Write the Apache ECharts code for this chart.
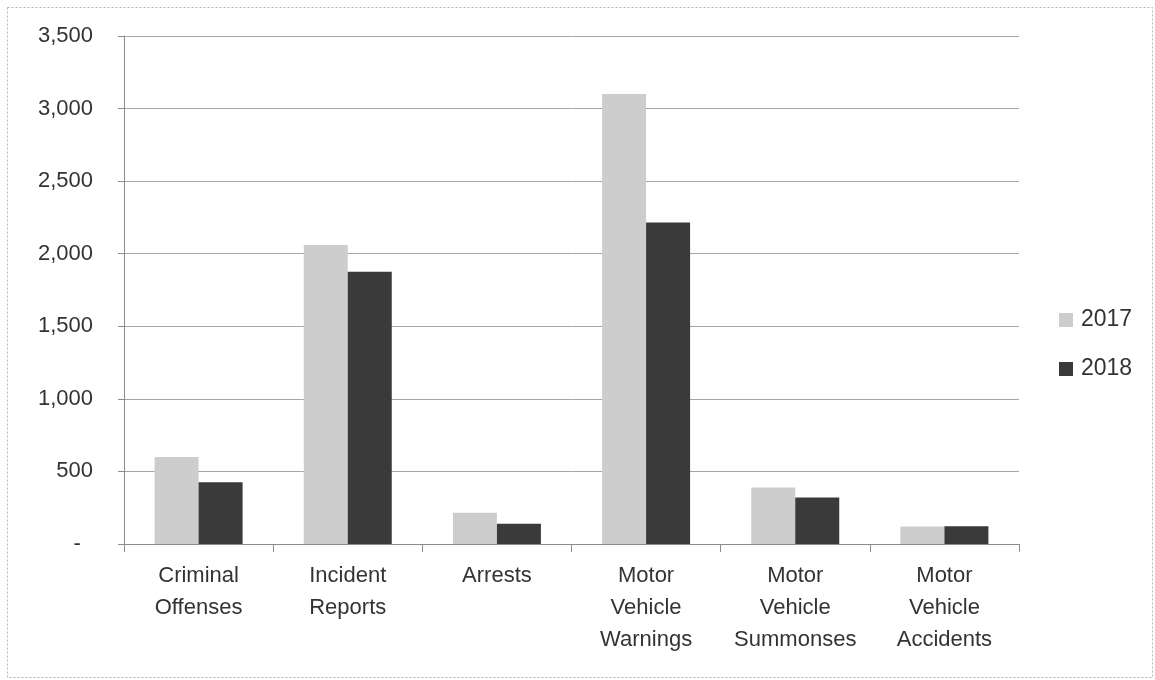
<!DOCTYPE html>
<html>
<head>
<meta charset="utf-8">
<title>Police Activity 2017 vs 2018</title>
<script src="https://cdn.jsdelivr.net/npm/echarts@6/dist/echarts.min.js"></script>
<style>
  html, body { margin: 0; padding: 0; background: #ffffff; }
  #chart { width: 1155px; height: 680px; }
</style>
</head>
<body>
<div id="chart"></div>
<script>
// Activity categories (line breaks match the wrapped axis labels)
const categories = [
  'Criminal\nOffenses',
  'Incident\nReports',
  'Arrests',
  'Motor\nVehicle\nWarnings',
  'Motor\nVehicle\nSummonses',
  'Motor\nVehicle\nAccidents'
];

// Yearly counts per category
const values2017 = [600, 2060, 215, 3100, 390, 120];
const values2018 = [425, 1875, 140, 2215, 320, 122];

const seriesNames = ['2017', '2018'];

// Value axis range
const yMin = 0;
const yMax = 3500;
const yStep = 500;

const FONT = 'Liberation Sans';
const TEXT_COLOR = '#333333';

function formatTick(v) {
  if (v === 0) return '-  ';
  return v.toString().replace(/\B(?=(\d{3})+(?!\d))/g, ',');
}

const chart = echarts.init(document.getElementById('chart'), null, { renderer: 'canvas' });

chart.setOption({
  backgroundColor: '#ffffff',
  animation: false,
  textStyle: { fontFamily: FONT },
  graphic: [
    {
      type: 'rect',
      shape: { x: 7.5, y: 7.5, width: 1145, height: 670 },
      style: { fill: 'none', stroke: '#b4b4b4', lineWidth: 1, lineDash: [2, 2] },
      silent: true
    }
  ],
  grid: {
    left: 124,
    right: 136,
    top: 36,
    bottom: 136,
    containLabel: false
  },
  legend: {
    orient: 'vertical',
    left: 1054,
    top: 303,
    itemWidth: 14,
    itemHeight: 14,
    itemGap: 25,
    icon: 'rect',
    data: seriesNames,
    textStyle: {
      fontFamily: FONT,
      fontSize: 23,
      lineHeight: 24,
      color: TEXT_COLOR,
      padding: [0, 0, 0, 3]
    }
  },
  xAxis: {
    type: 'category',
    data: categories,
    boundaryGap: true,
    axisLine: { show: true, lineStyle: { color: '#8c8c8c', width: 1 } },
    axisTick: { show: true, length: 8, lineStyle: { color: '#8c8c8c' } },
    axisLabel: {
      interval: 0,
      margin: 16,
      fontFamily: FONT,
      fontSize: 22,
      lineHeight: 32,
      color: TEXT_COLOR,
      align: 'center'
    },
    splitLine: { show: false }
  },
  yAxis: {
    type: 'value',
    min: yMin,
    max: yMax,
    interval: yStep,
    axisLine: { show: true, lineStyle: { color: '#8c8c8c', width: 1 } },
    axisTick: { show: true, length: 6, lineStyle: { color: '#8c8c8c' } },
    axisLabel: {
      margin: 31,
      fontFamily: FONT,
      fontSize: 22,
      color: TEXT_COLOR,
      formatter: formatTick
    },
    splitLine: { show: true, lineStyle: { color: '#a6a6a6', width: 1 } }
  },
  series: [
    {
      name: seriesNames[0],
      type: 'bar',
      data: values2017,
      barWidth: 44,
      barGap: '0%',
      itemStyle: { color: '#cdcdcd' }
    },
    {
      name: seriesNames[1],
      type: 'bar',
      data: values2018,
      barWidth: 44,
      barGap: '0%',
      itemStyle: { color: '#3a3a3a' }
    }
  ]
});
</script>
</body>
</html>
